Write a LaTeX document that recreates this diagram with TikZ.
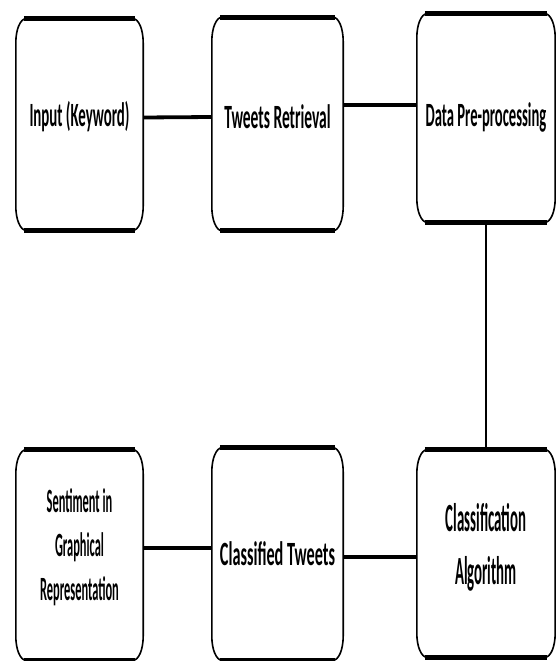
\documentclass[tikz,border=0pt]{standalone}
\usepackage{graphicx}
\usepackage{fontspec}
\setmainfont{Carlito}
\newcommand\squeezed[2][0.45]{\scalebox{#1}[1]{#2}}

\begin{document}
\begin{tikzpicture}[x=1pt,y=-1pt,
  stage/.style={inner sep=0},
  words/.style={align=center,inner sep=0,font=\fontsize{34}{44}\selectfont\bfseries},
  link/.style={line width=3.8pt}]
\useasboundingbox[fill=white] (0,0) rectangle (556,661);
% ---------- top row ----------
\node[stage,minimum width=127pt,minimum height=211pt,
  label={[words,yshift=7.5pt]center:\squeezed[0.437]{Input (Keyword)}}] (inp) at (79.5,124.5) {};
\node[stage,minimum width=131pt,minimum height=213pt,
  label={[words,yshift=7pt]center:\squeezed[0.456]{Tweets Retrieval}}] (ret) at (277.5,124) {};
\node[stage,minimum width=138pt,minimum height=208pt,
  label={[words,yshift=1pt]center:\squeezed[0.43]{Data Pre-processing}}] (pre) at (486,118) {};
% ---------- bottom row ----------
\node[stage,minimum width=127pt,minimum height=210pt,
  label={[words,yshift=8pt]center:\squeezed[0.365]{Sentiment in}\\\squeezed[0.365]{Graphical}\\\squeezed[0.365]{Representation}}] (sen) at (79.5,555) {};
\node[stage,minimum width=131pt,minimum height=212pt,
  label={[words]center:\squeezed[0.478]{Classified Tweets}}] (cls) at (277.5,554) {};
\node[stage,minimum width=138pt,minimum height=207pt,
  label={[words,yshift=6pt,font=\fontsize{40}{53}\selectfont\bfseries]center:\squeezed[0.371]{Classification}\\\squeezed[0.371]{Algorithm}}] (alg) at (486,553.5) {};
% ---------- outlines: thin sides, heavy top and bottom ----------
\foreach \n in {inp,ret,pre,sen,cls,alg}{
  \draw[line width=1.6pt] ([xshift=10pt]\n.north west) -- ([xshift=-10pt]\n.north east)
        arc[start angle=90,end angle=0,x radius=10pt,y radius=24pt] -- ([yshift=24pt]\n.south east)
        arc[start angle=0,end angle=-90,x radius=10pt,y radius=24pt] -- ([xshift=10pt]\n.south west)
        arc[start angle=-90,end angle=-180,x radius=10pt,y radius=24pt] -- ([yshift=-24pt]\n.north west)
        arc[start angle=180,end angle=90,x radius=10pt,y radius=24pt] -- cycle;
  \draw[line width=5pt] ([xshift=8pt]\n.north west) -- ([xshift=-8pt]\n.north east)
        ([xshift=8pt]\n.south west) -- ([xshift=-8pt]\n.south east);}
% ---------- connectors ----------
\draw[link] ([yshift=7pt]inp.east) -- ([yshift=7pt]ret.west);
\draw[link] ([yshift=19pt]ret.east) -- ([yshift=13pt]pre.west);
\draw[line width=1.5pt] (pre.south) -- (alg.north);
\draw[link] ([yshift=7pt]sen.east) -- ([yshift=6pt]cls.west);
\draw[link] ([yshift=-3pt]cls.east) -- ([yshift=-3.5pt]alg.west);
\end{tikzpicture}
\end{document}
